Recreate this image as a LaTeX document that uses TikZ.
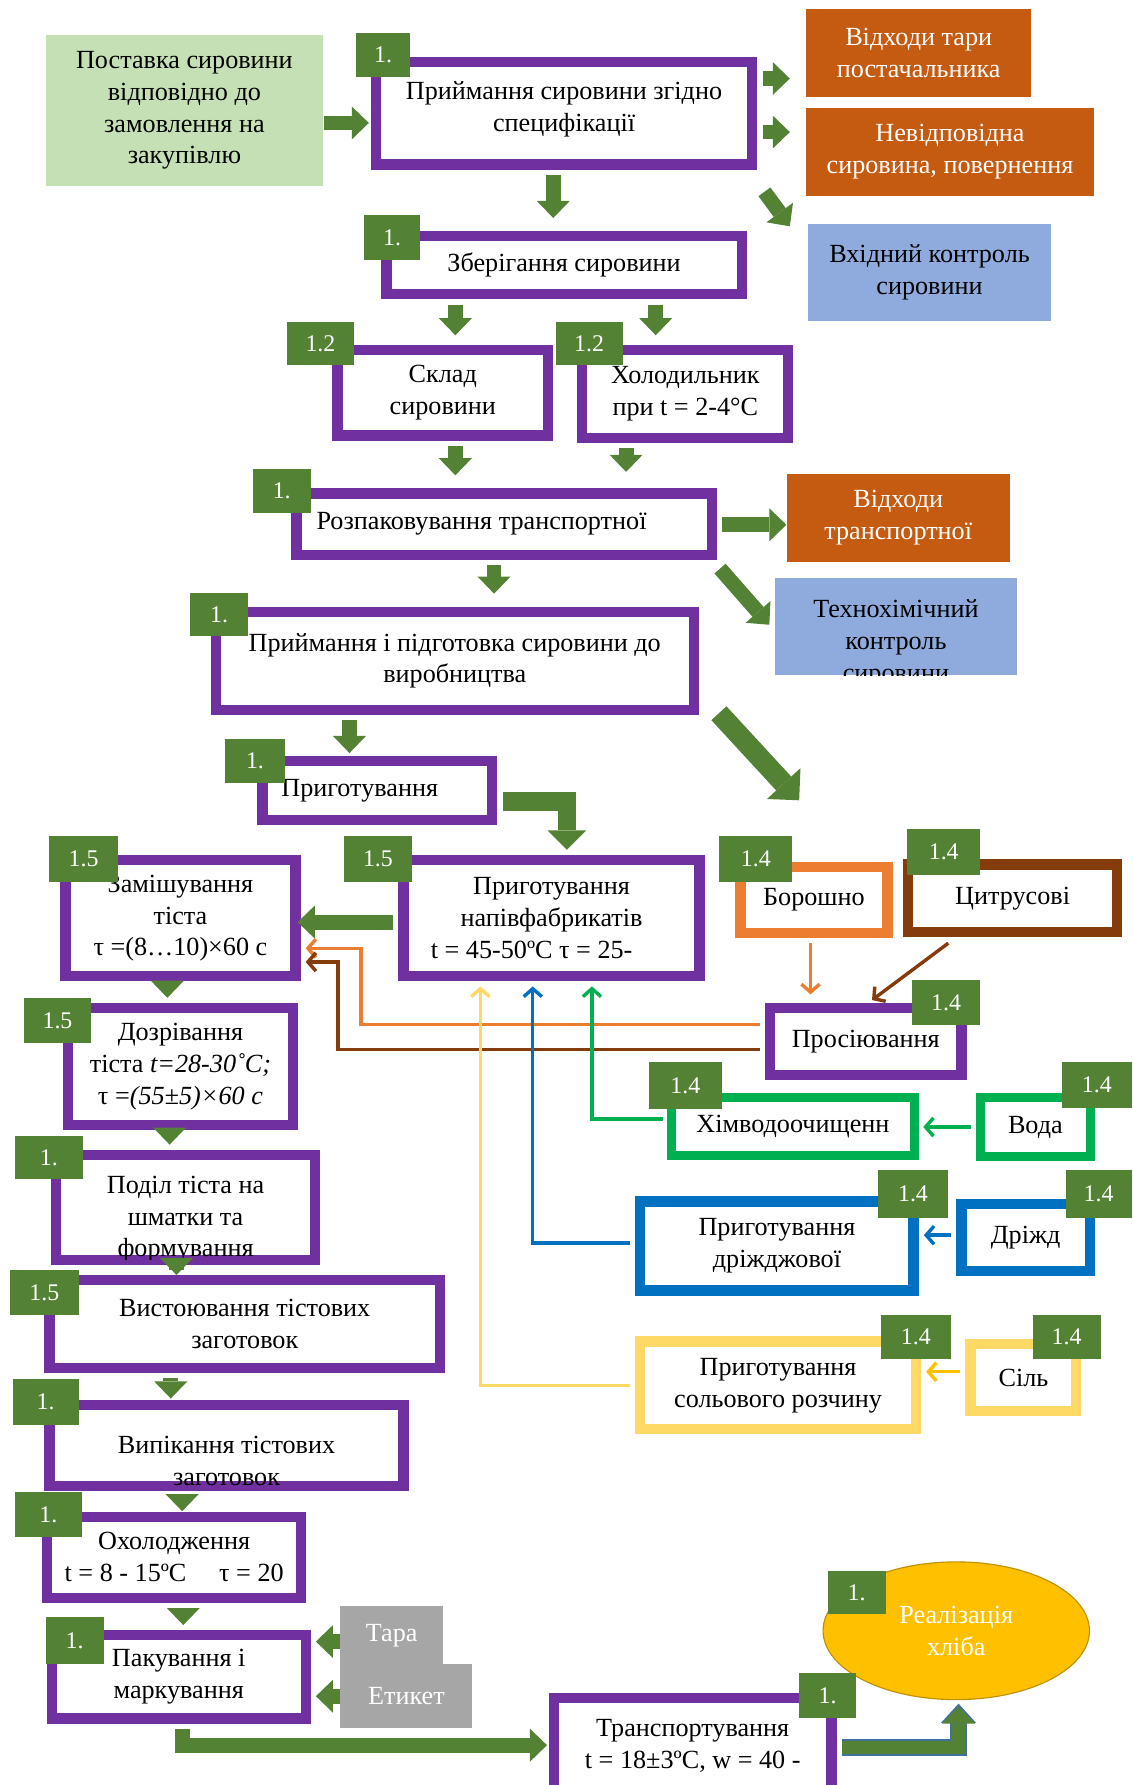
\documentclass[tikz,border=0pt]{standalone}
\usepackage{fontspec}
\setmainfont{Liberation Serif}
\usetikzlibrary{arrows.meta,shapes.geometric,calc}
\definecolor{cpurp}{HTML}{7030A0}
\definecolor{cbgreen}{HTML}{548235}
\definecolor{clg}{HTML}{C5E0B4}
\definecolor{cobox}{HTML}{C55A11}
\definecolor{cbbox}{HTML}{8FAADC}
\definecolor{coline}{HTML}{ED7D31}
\definecolor{cbrn}{HTML}{843C0C}
\definecolor{cgrn}{HTML}{00B050}
\definecolor{cblu}{HTML}{0070C0}
\definecolor{cylw}{HTML}{FFD966}
\definecolor{cylwd}{HTML}{FFC000}
\definecolor{cgry}{HTML}{A6A6A6}
\definecolor{cellf}{HTML}{FFC000}
\definecolor{celld}{HTML}{BF9000}
\definecolor{czblue}{HTML}{41719C}
\begin{document}
\begin{tikzpicture}[x=1pt,y=-1pt,
  txt/.style={font=\fontsize{23}{28}\selectfont, align=center, inner sep=1pt},
  pbox/.style={txt, draw=cpurp, line width=9pt, fill=white},
  cbox/.style={txt, draw=#1, line width=9pt, fill=white},
  fbox/.style={txt, fill=#1, text=white},
  badge/.style={fill=cbgreen, text=white, font=\fontsize{21}{22}\selectfont, inner sep=0pt},
  garrow/.style={draw=cbgreen, line width=13pt, -{Triangle[width=29pt,length=15pt,line width=0pt]}},
  warrow/.style={draw=cbgreen, line width=16pt, -{Triangle[width=34pt,length=17pt,line width=0pt]}},
  zarrow/.style={draw=czblue, line width=15pt, -{Triangle[width=31pt,length=17pt,line width=0pt]}},
  bigarrow/.style={draw=cbgreen, line width=18pt, -{Triangle[width=40pt,length=20pt,line width=0pt]}},
  conn/.style={line width=3pt, -{Straight Barb[length=7pt,width=16pt]}}
]
\useasboundingbox (0,0) rectangle (995,1568);

% ---------- boxes ----------
\node[txt, fill=clg, minimum width=244pt, minimum height=132pt] (A) at (162,97) {Поставка сировини\\відповідно до\\замовлення на\\закупівлю};
\node[pbox, minimum width=330pt, minimum height=90pt] (B) at (495.5,99.5) {Приймання сировини згідно\\специфікації\\[-16pt]};
\node[fbox=cobox, minimum width=198pt, minimum height=77pt] (O1) at (807,46.5) {Відходи тари\\постачальника};
\node[fbox=cobox, minimum width=253pt, minimum height=77pt] (O2) at (834.5,133.5) {Невідповідна\\сировина, повернення};
\node[txt, fill=cbbox, minimum width=213pt, minimum height=85pt] (BL1) at (816.5,239.5) {Вхідний контроль\\сировини};
\node[pbox, minimum width=312pt, minimum height=51pt] (C) at (495.5,233) {Зберігання сировини};
\node[pbox, minimum width=185pt, minimum height=75pt] (D) at (389,345) {Склад\\сировини};
\node[pbox, minimum width=181pt, minimum height=77pt] (E) at (602,346) {Холодильник\\при t = 2-4°C};
\node[pbox, minimum width=365pt, minimum height=54pt] (F) at (443,460.5) {\hspace*{-40pt}Розпаковування транспортної};
\node[fbox=cobox, minimum width=196pt, minimum height=78pt] (O3) at (789,455) {Відходи\\транспортної};
\node[txt, fill=cbbox, minimum width=212pt, minimum height=85pt] (BL2) at (787,550.5) {};
\begin{scope}
  \clip (BL2.south west) rectangle (BL2.north east);
  \node[txt] (BL2t) at (787,565) {Технохімічний\\контроль\\сировини};
\end{scope}
\node[pbox, minimum width=420pt, minimum height=86pt] (G) at (399.5,580.5) {Приймання і підготовка сировини до\\виробництва};
\node[pbox, minimum width=202pt, minimum height=52pt] (H) at (331.5,694.5) {\hspace*{-31pt}Приготування};
\node[pbox, minimum width=260pt, minimum height=102pt] (I) at (484.5,806.5) {Приготування\\напівфабрикатів\\t = 45-50ºC τ = 25-\hspace*{35pt}};
\node[pbox, minimum width=202pt, minimum height=102pt] (J) at (158.5,806.5) {Замішування\\тіста\\τ =(8…10)×60 с};
\node[cbox=coline, minimum width=129pt, minimum height=58pt] (K) at (715,790.5) {Борошно};
\node[cbox=cbrn, minimum width=184pt, minimum height=59pt] (L) at (889.5,789) {Цитрусові};
\node[pbox, minimum width=168pt, minimum height=59pt] (M) at (760.5,915) {Просіювання};
\node[pbox, minimum width=198pt, minimum height=103pt] (T) at (158.5,937) {Дозрівання\\тіста \textit{t=28-30˚C;}\\τ =\textit{(55±5)×60 с}};
\node[cbox=cgrn, line width=8pt, minimum width=213pt, minimum height=51pt] (N) at (696.5,989.5) {Хімводоочищенн};
\node[cbox=cgrn, line width=8pt, minimum width=97pt, minimum height=52pt] (O) at (909.5,990) {Вода};
\node[pbox, minimum width=227pt, minimum height=92pt] (U) at (163,1060.5) {};
\begin{scope}
  \clip ($(U.south west)+(4.5,-4.5)$) rectangle ($(U.north east)+(-4.5,4.5)$);
  \node[txt] (Ut) at (163,1071) {Поділ тіста на\\шматки та\\формування};
\end{scope}
\node[cbox=cblu, minimum width=240pt, minimum height=78pt] (P) at (682.5,1094.5) {Приготування\\дріжджової};
\node[cbox=cblu, minimum width=113pt, minimum height=59pt] (Q) at (901,1087) {Дріжд};
\node[pbox, minimum width=343pt, minimum height=77pt] (V) at (215,1163) {Вистоювання тістових\\заготовок};
\node[cbox=cylw, minimum width=242pt, minimum height=77pt] (R) at (683.5,1217) {Приготування\\сольового розчину};
\node[cbox=cylw, minimum width=93pt, minimum height=59pt] (S) at (899,1210) {Сіль};
\node[pbox, minimum width=311pt, minimum height=71pt] (W) at (199,1270) {};
\begin{scope}
  \clip ($(W.south west)+(4.5,-4.5)$) rectangle ($(W.north east)+(-4.5,4.5)$);
  \node[txt] (Wt) at (199,1283) {Випікання тістових\\заготовок};
\end{scope}
\node[pbox, minimum width=223pt, minimum height=71pt] (X) at (153,1368) {Охолодження\\t = 8 - 15ºC \quad τ = 20};
\node[pbox, minimum width=223pt, minimum height=73pt] (Y) at (157,1473) {Пакування і\\маркування};
\node[fbox=cgry, minimum width=90pt, minimum height=51pt] (Tara) at (344,1436.5) {Тара};
\node[fbox=cgry, minimum width=116pt, minimum height=56pt] (Etik) at (357,1490) {Етикет};
\node[pbox, minimum width=244pt, minimum height=84pt] (Z) at (608.5,1533.5) {Транспортування\\t = 18±3ºC, w = 40 -};
\node[txt, ellipse, fill=cellf, draw=celld, line width=1pt, text=white, minimum width=234pt, minimum height=121pt] (Ell) at (840,1432.5) {Реалізація\\хліба};

% ---------- green block arrows ----------
\draw[garrow] ($(A.east)+(0,11)$) -- ($(B.west)+(-2,8.5)$);
\draw[garrow] ($(B.east)+(5,-30.5)$) -- ($(O1.west)+(-14,22.5)$);
\draw[garrow] ($(B.east)+(5,16.5)$) -- ($(O2.west)+(-14,-17.5)$);
\draw[garrow] ($(B.south east)+(6.5,19.5)$) -- ($(BL1.north west)+(-16,2)$);
\draw[garrow] ($(B.south)+(-9.5,4.5)$) -- ($(C.north)+(-9.5,-11.5)$);
\draw[garrow] ($(C.south)+(-95.5,4.5)$) -- ($(D.north)+(11,-8.5)$);
\draw[garrow] ($(C.south)+(80.5,4.5)$) -- ($(E.north)+(-26,-8.5)$);
\draw[garrow] ($(D.south)+(11,4.5)$) -- ($(F.north)+(-43,-11.5)$);
\draw[garrow] ($(E.south)+(-52,4.5)$) -- ($(F.north)+(107,-14.5)$);
\draw[garrow] ($(F.east)+(4.5,0.5)$) -- ($(O3.west)+(0,6)$);
\draw[garrow] ($(F.south east)+(2.5,7.5)$) -- ($(BL2.north west)+(-5,41)$);
\draw[garrow] ($(F.south)+(-9,4.5)$) -- ($(G.north)+(34.5,-11.5)$);
\coordinate (diagEnd) at (702,703);
\draw[bigarrow] ($(G.south east)+(17.5,-1.5)$) -- (diagEnd);
\draw[garrow] ($(G.south)+(-92.5,4.5)$) -- ($(H.north)+(-24.5,-2.5)$);
\draw[warrow] ($(H.east)+(4.5,9.5)$) -| ($(I.north)+(13.5,-4.5)$);
\draw[garrow] ($(I.west)+(-4.5,3.5)$) -- ($(J.east)+(-2.5,3.5)$);
\draw[garrow] ($(J.south)+(-11.5,4.5)$) -- ($(T.north)+(-11.5,-4.5)$);
\draw[garrow] ($(T.south)+(-9.5,4.5)$) -- ($(U.north)+(-14,-4.5)$);
\draw[garrow] ($(U.south)+(-8,4.5)$) -- ($(V.north)+(-60,0)$);
\draw[garrow] ($(V.south)+(-65,4.5)$) -- ($(W.north)+(-49,-1.5)$);
\draw[garrow] ($(W.south)+(-39,4.5)$) -- ($(X.north)+(7,-0.5)$);
\draw[garrow] ($(X.south)+(8,4.5)$) -- ($(Y.north)+(4,-4.5)$);
\draw[garrow] ($(Tara.west)+(0,5.5)$) -- ($(Y.east)+(4.5,-31)$);
\draw[garrow] (Etik.west) -- ($(Y.east)+(4.5,17)$);
\draw[garrow] ($(Y.south)+(3,4.5)$) |- ($(Z.west)+(-1.5,-0.5)$);
\draw[zarrow] ($(Z.east)+(4.5,1.5)$) -| ($(Ell.south)+(2,3)$);
\draw[garrow, line width=11pt] ($(Z.east)+(4.5,1.5)$) -| ($(Ell.south)+(2,5.5)$);

% ---------- thin coloured connectors ----------
\draw[conn, draw=coline] ($(K.south)+(-3,4.5)$) -- ($(M.north)+(-48.5,-7.5)$);
\draw[conn, draw=cbrn] ($(L.south)+(-56.5,5.5)$) -- ($(M.north)+(5.5,-2.5)$);
\draw[conn, draw=coline] ($(M.west)+(-4.5,-15)$) -| (317,833) -- ($(J.east)+(4.5,26.5)$);
\draw[conn, draw=cbrn] ($(M.west)+(-4.5,7)$) -| (297,845) -- ($(J.east)+(4.5,38.5)$);
\draw[conn, draw=cgrn] ($(N.west)+(-4,-6.5)$) -| ($(I.south)+(35.5,4.5)$);
\draw[conn, draw=cblu] ($(P.west)+(-4.5,-2.5)$) -| ($(I.south)+(-16.5,4.5)$);
\draw[conn, draw=cylw] ($(R.west)+(-4.5,0)$) -| ($(I.south)+(-62.5,4.5)$);
\draw[conn, draw=cgrn] ($(O.west)+(-4,0)$) -- ($(N.east)+(4,0.5)$);
\draw[conn, draw=cblu] ($(Q.west)+(-4.5,-2)$) -- ($(P.east)+(4.5,-9.5)$);
\draw[conn, draw=cylwd] ($(S.west)+(-4.5,-5)$) -- ($(R.east)+(4.5,-12)$);

% ---------- badges ----------
\node[badge, minimum width=47pt, minimum height=39pt] (bB) at (336.5,48.5) {1.};
\node[badge, minimum width=49pt, minimum height=39pt] (bC) at (344.5,208.5) {1.};
\node[badge, minimum width=59pt, minimum height=38pt] (bD) at (281.5,302) {1.2};
\node[badge, minimum width=59pt, minimum height=38pt] (bE) at (517.5,302) {1.2};
\node[badge, minimum width=51pt, minimum height=39pt] (bF) at (247.5,431.5) {1.};
\node[badge, minimum width=51pt, minimum height=38pt] (bG) at (192.5,540) {1.};
\node[badge, minimum width=52pt, minimum height=39pt] (bH) at (224,668.5) {1.};
\node[badge, minimum width=60pt, minimum height=41pt] (bI) at (332,754.5) {1.5};
\node[badge, minimum width=61pt, minimum height=41pt] (bJ) at (73.5,754.5) {1.5};
\node[badge, minimum width=64pt, minimum height=41pt] (bK) at (664,754.5) {1.4};
\node[badge, minimum width=64pt, minimum height=41pt] (bL) at (829,748.5) {1.4};
\node[badge, minimum width=60pt, minimum height=39pt] (bM) at (831,880.5) {1.4};
\node[badge, minimum width=59pt, minimum height=39pt] (bT) at (50.5,896.5) {1.5};
\node[badge, minimum width=64pt, minimum height=41pt] (bN) at (602,953.5) {1.4};
\node[badge, minimum width=61pt, minimum height=40pt] (bO) at (963.5,953) {1.4};
\node[badge, minimum width=60pt, minimum height=38pt] (bU) at (43,1017) {1.};
\node[badge, minimum width=62pt, minimum height=42pt] (bP) at (802,1049) {1.4};
\node[badge, minimum width=58pt, minimum height=42pt] (bQ) at (965,1049) {1.4};
\node[badge, minimum width=60pt, minimum height=39pt] (bV) at (39,1135.5) {1.5};
\node[badge, minimum width=61pt, minimum height=39pt] (bR) at (804.5,1174.5) {1.4};
\node[badge, minimum width=60pt, minimum height=39pt] (bS) at (937,1174.5) {1.4};
\node[badge, minimum width=58pt, minimum height=41pt] (bW) at (40,1231.5) {1.};
\node[badge, minimum width=59pt, minimum height=39pt] (bX) at (42.5,1330.5) {1.};
\node[badge, minimum width=51pt, minimum height=42pt] (bY) at (65.5,1441) {1.};
\node[badge, minimum width=50pt, minimum height=39pt] (bZ) at (727,1489.5) {1.};
\node[badge, minimum width=51pt, minimum height=38pt] (bEll) at (752.5,1399) {1.};
\end{tikzpicture}
\end{document}
